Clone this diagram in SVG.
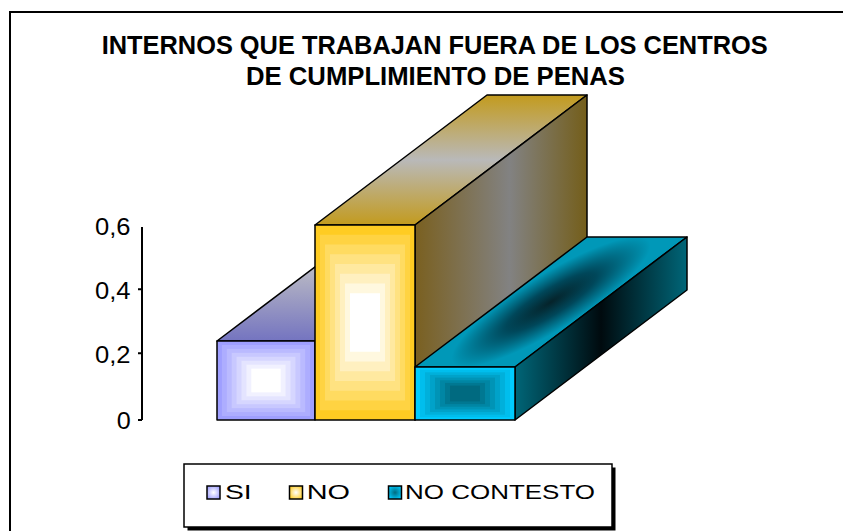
<svg xmlns="http://www.w3.org/2000/svg" width="843" height="531" viewBox="0 0 843 531">
<style>
text{font-family:"Liberation Sans",Arial,sans-serif;fill:#000}
.title{font-size:25px;font-weight:bold}
.tick{font-size:23px}
.leg{font-size:20px}
.edge{fill:none;stroke:#000;stroke-width:1.5;stroke-linejoin:round}
.ax{stroke:#000;stroke-width:2;fill:none}
</style>
<defs>
<linearGradient id="siTop" gradientUnits="userSpaceOnUse" x1="0" y1="0" x2="0" y2="1" gradientTransform="matrix(98 0 172 -130 217 341)">
<stop offset="0" stop-color="#7474c0"/><stop offset="0.55" stop-color="#b8b8c4"/><stop offset="1" stop-color="#7474c0"/>
</linearGradient>
<linearGradient id="noTop" gradientUnits="userSpaceOnUse" x1="0" y1="0" x2="0" y2="1" gradientTransform="matrix(100 0 172 -130 315 225)">
<stop offset="0" stop-color="#c39b1e"/><stop offset="0.5" stop-color="#b9b9b9"/><stop offset="1" stop-color="#c39b1e"/>
</linearGradient>
<linearGradient id="noSide" gradientUnits="userSpaceOnUse" x1="415" y1="0" x2="587" y2="0">
<stop offset="0" stop-color="#7a6020"/><stop offset="0.55" stop-color="#828282"/><stop offset="1" stop-color="#745e1a"/>
</linearGradient>
<radialGradient id="ncTop" gradientUnits="userSpaceOnUse" cx="0.5" cy="0.5" r="0.5" gradientTransform="matrix(100 0 172 -130 415 367)">
<stop offset="0" stop-color="#05232a"/><stop offset="0.45" stop-color="#00475a"/><stop offset="1" stop-color="#0098b8"/>
</radialGradient>
<linearGradient id="ncSide" gradientUnits="userSpaceOnUse" x1="515" y1="0" x2="687" y2="0">
<stop offset="0" stop-color="#006678"/><stop offset="0.5" stop-color="#000a0e"/><stop offset="1" stop-color="#006678"/>
</linearGradient>
<radialGradient id="swSi" cx="0.5" cy="0.5" r="0.6"><stop offset="0" stop-color="#ffffff"/><stop offset="1" stop-color="#9f9fff"/></radialGradient>
<radialGradient id="swNo" cx="0.5" cy="0.5" r="0.6"><stop offset="0" stop-color="#ffffff"/><stop offset="1" stop-color="#ffcc22"/></radialGradient>
<radialGradient id="swNc" cx="0.5" cy="0.5" r="0.6"><stop offset="0" stop-color="#006a80"/><stop offset="1" stop-color="#00ccff"/></radialGradient>
</defs>
<rect width="843" height="531" fill="#fff"/>
<path class="ax" d="M10,531 V12 H843"/>

<g id="title">
<text class="title" x="101.7" y="54" textLength="666" lengthAdjust="spacingAndGlyphs">INTERNOS QUE TRABAJAN FUERA DE LOS CENTROS</text>
<text class="title" x="246" y="85" textLength="379" lengthAdjust="spacingAndGlyphs">DE CUMPLIMIENTO DE PENAS</text>
</g>

<g id="axis">
<path class="ax" d="M142,227 V420 M138,420 H142 M138,353.3 H142 M138,289.3 H142"/>
<text class="tick" x="95" y="235" textLength="35.5" lengthAdjust="spacingAndGlyphs">0,6</text>
<text class="tick" x="95" y="299" textLength="35.5" lengthAdjust="spacingAndGlyphs">0,4</text>
<text class="tick" x="95" y="363.3" textLength="35.5" lengthAdjust="spacingAndGlyphs">0,2</text>
<text class="tick" x="116.7" y="429.3" textLength="14" lengthAdjust="spacingAndGlyphs">0</text>
</g>

<g id="bar-si">
<polygon points="217,341 315,341 487,211 389,211" fill="url(#siTop)" class="edge" style="fill:url(#siTop)"/>
<rect x="217" y="341" width="98" height="79" fill="#9f9fff"/>
<rect x="221.9" y="344.95" width="88.2" height="71.1" fill="#adadff"/>
<rect x="226.8" y="348.9" width="78.4" height="63.2" fill="#babaff"/>
<rect x="231.7" y="352.85" width="68.6" height="55.3" fill="#c8c8ff"/>
<rect x="236.6" y="356.8" width="58.8" height="47.4" fill="#d6d6ff"/>
<rect x="241.5" y="360.75" width="49" height="39.5" fill="#e4e4ff"/>
<rect x="246.4" y="364.7" width="39.2" height="31.6" fill="#f1f1ff"/>
<rect x="251.3" y="368.65" width="29.4" height="23.7" fill="#ffffff"/>
<rect x="217" y="341" width="98" height="79" class="edge"/>
</g>

<g id="bar-no">
<polygon points="315,225 415,225 587,95 487,95" class="edge" style="fill:url(#noTop)"/>
<polygon points="415,225 587,95 587,290 415,420" class="edge" style="fill:url(#noSide)"/>
<rect x="315" y="225" width="100" height="195" fill="#ffcc22"/>
<rect x="320" y="234.75" width="90" height="175.5" fill="#ffd342"/>
<rect x="325" y="244.5" width="80" height="156" fill="#ffdb61"/>
<rect x="330" y="254.25" width="70" height="136.5" fill="#ffe281"/>
<rect x="335" y="264" width="60" height="117" fill="#ffe9a0"/>
<rect x="340" y="273.75" width="50" height="97.5" fill="#fff0c0"/>
<rect x="345" y="283.5" width="40" height="78" fill="#fff8df"/>
<rect x="350" y="293.25" width="30" height="58.5" fill="#ffffff"/>
<rect x="315" y="225" width="100" height="195" class="edge"/>
</g>

<g id="bar-nc">
<polygon points="415,367 515,367 687,237 587,237" class="edge" style="fill:url(#ncTop)"/>
<polygon points="515,367 687,237 687,290 515,420" class="edge" style="fill:url(#ncSide)"/>
<rect x="415" y="367" width="100" height="53" fill="#00ccff"/>
<rect x="420" y="369.65" width="90" height="47.7" fill="#00beed"/>
<rect x="425" y="372.3" width="80" height="42.4" fill="#00b0db"/>
<rect x="430" y="374.95" width="70" height="37.1" fill="#00a2c9"/>
<rect x="435" y="377.6" width="60" height="31.8" fill="#0094b6"/>
<rect x="440" y="380.25" width="50" height="26.5" fill="#0086a4"/>
<rect x="445" y="382.9" width="40" height="21.2" fill="#007892"/>
<rect x="450" y="385.55" width="30" height="15.9" fill="#006a80"/>
<rect x="415" y="367" width="100" height="53" class="edge"/>
</g>

<g id="legend">
<rect x="187.5" y="467.5" width="428" height="63" fill="#000"/>
<rect x="184" y="464" width="428" height="63" fill="#fff" stroke="#000" stroke-width="1.5"/>
<rect x="207" y="486" width="13" height="13" fill="url(#swSi)" stroke="#000" stroke-width="1.5"/>
<text class="leg" x="225" y="499" textLength="26.7" lengthAdjust="spacingAndGlyphs">SI</text>
<rect x="289.5" y="486" width="13" height="13" fill="url(#swNo)" stroke="#000" stroke-width="1.5"/>
<text class="leg" x="306.7" y="499" textLength="43.3" lengthAdjust="spacingAndGlyphs">NO</text>
<rect x="388.5" y="486" width="13" height="13" fill="url(#swNc)" stroke="#000" stroke-width="1.5"/>
<text class="leg" x="405" y="499" textLength="190" lengthAdjust="spacingAndGlyphs">NO CONTESTO</text>
</g>
</svg>
